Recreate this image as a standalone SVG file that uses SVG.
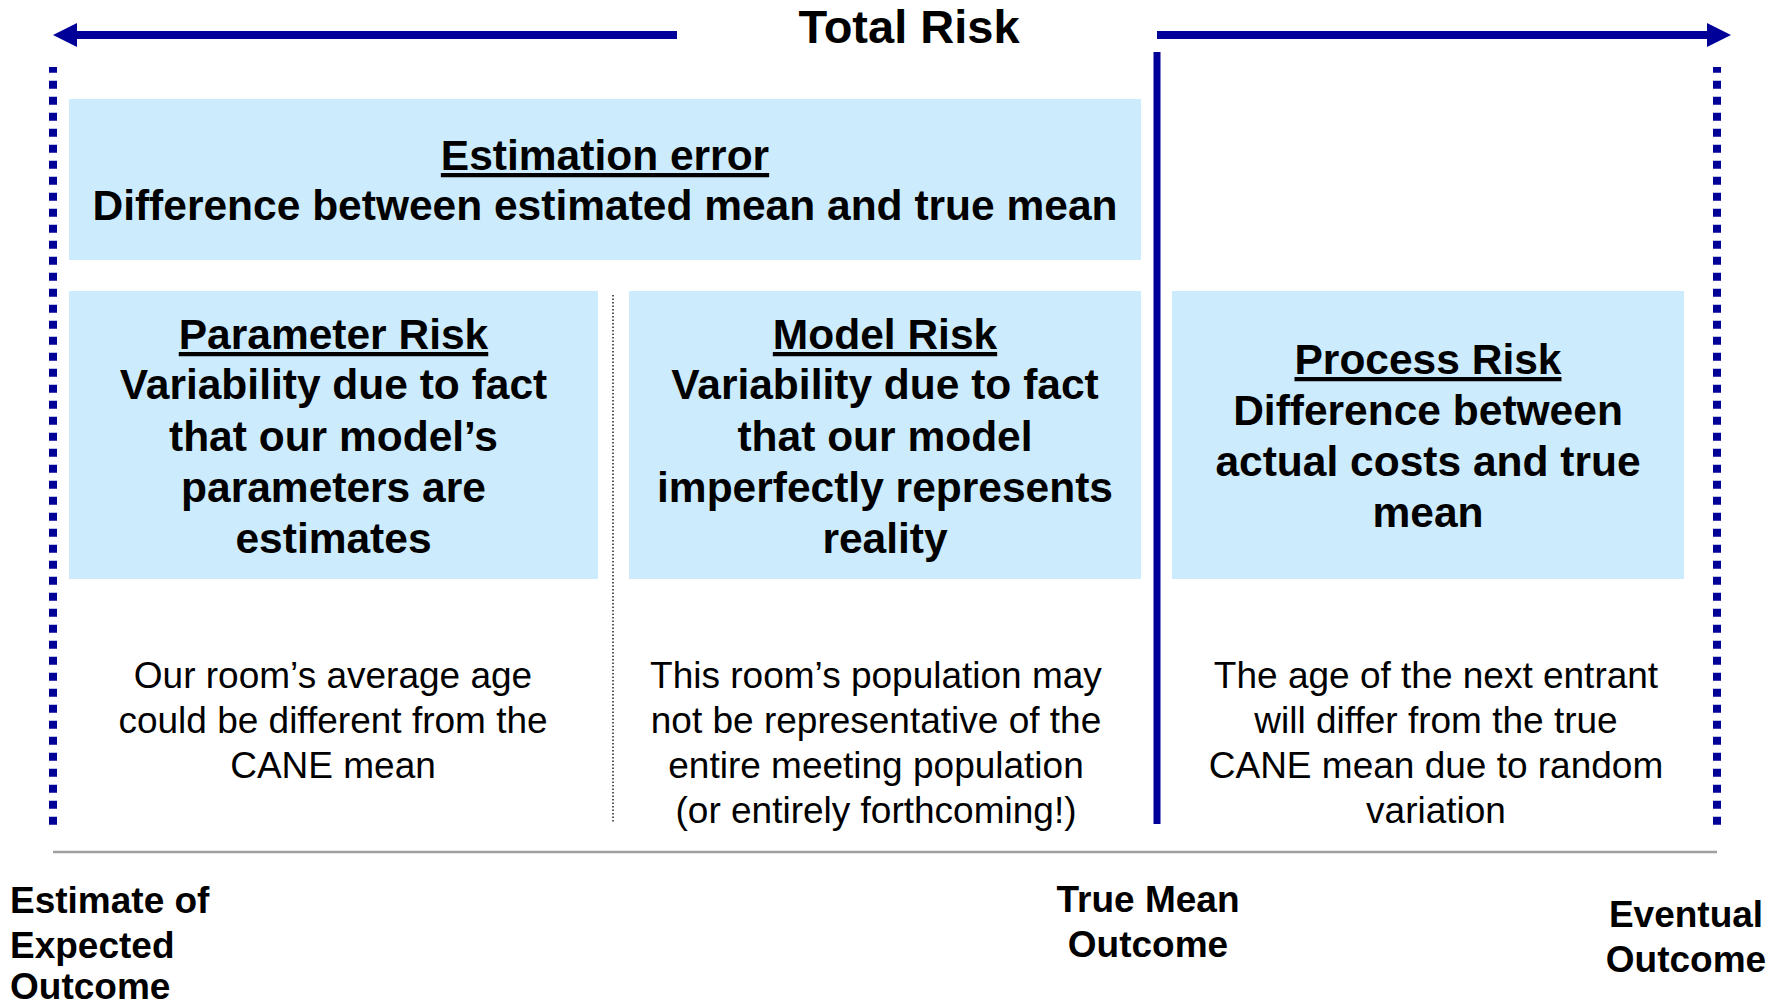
<svg xmlns="http://www.w3.org/2000/svg" width="1783" height="1006" viewBox="0 0 1783 1006">
  <style>
    text { font-family: "Liberation Sans", Arial, sans-serif; fill: #000; text-anchor: middle; }
    .head { font-size: 42.5px; font-weight: bold; }
    .title { text-decoration: underline; }
    .note { font-size: 37px; }
    .axis { font-size: 37px; font-weight: bold; }
    .box { fill: #CCEBFC; }
    .bound { stroke: #000099; stroke-width: 8; stroke-dasharray: 8 8; stroke-dashoffset: 2.3; fill: none; }
  </style>
  <defs>
    <marker id="tip" markerWidth="3" markerHeight="3" refX="0" refY="1.5" orient="auto" markerUnits="strokeWidth" viewBox="0 0 3 3">
      <path d="M0,0 L3,1.5 L0,3 Z" fill="#000099"/>
    </marker>
  </defs>

  <!-- Arrows, separators and the baseline -->
  <g id="connectors">
    <line x1="677" y1="35" x2="77" y2="35" stroke="#000099" stroke-width="8" marker-end="url(#tip)"/>
    <line x1="1157" y1="35" x2="1707" y2="35" stroke="#000099" stroke-width="8" marker-end="url(#tip)"/>
    <line x1="1157" y1="52" x2="1157" y2="824" stroke="#000099" stroke-width="7"/>
    <line class="bound" x1="53" y1="67" x2="53" y2="825"/>
    <line class="bound" x1="1717" y1="67" x2="1717" y2="825"/>
    <line x1="613" y1="295" x2="613" y2="822" stroke="#000" stroke-width="1.3" stroke-dasharray="1.5 2"/>
    <line x1="53" y1="852" x2="1717" y2="852" stroke="#A0A0A0" stroke-width="2.5"/>
  </g>

  <g id="total-risk">
    <text x="909" y="43" style="font-size:47px;font-weight:bold">Total Risk</text>
  </g>

  <g id="estimation-error">
    <rect class="box" x="69" y="99" width="1072" height="161"/>
    <text class="head" x="605" y="170"><tspan class="title">Estimation error</tspan></text>
    <text class="head" x="605" y="220">Difference between estimated mean and true mean</text>
  </g>

  <g id="parameter-risk">
    <rect class="box" x="69" y="291" width="529" height="288"/>
    <text class="head" x="333.5" y="349"><tspan class="title">Parameter Risk</tspan></text>
    <text class="head" x="333.5" y="399">Variability due to fact</text>
    <text class="head" x="333.5" y="451">that our model’s</text>
    <text class="head" x="333.5" y="502">parameters are</text>
    <text class="head" x="333.5" y="553">estimates</text>
    <text class="note" x="333" y="688">Our room’s average age</text>
    <text class="note" x="333" y="733">could be different from the</text>
    <text class="note" x="333" y="778">CANE mean</text>
  </g>

  <g id="model-risk">
    <rect class="box" x="629" y="291" width="512" height="288"/>
    <text class="head" x="885" y="349"><tspan class="title">Model Risk</tspan></text>
    <text class="head" x="885" y="399">Variability due to fact</text>
    <text class="head" x="885" y="451">that our model</text>
    <text class="head" x="885" y="502">imperfectly represents</text>
    <text class="head" x="885" y="553">reality</text>
    <text class="note" x="876" y="688">This room’s population may</text>
    <text class="note" x="876" y="733">not be representative of the</text>
    <text class="note" x="876" y="778">entire meeting population</text>
    <text class="note" x="876" y="823">(or entirely forthcoming!)</text>
  </g>

  <g id="process-risk">
    <rect class="box" x="1172" y="291" width="512" height="288"/>
    <text class="head" x="1428" y="374"><tspan class="title">Process Risk</tspan></text>
    <text class="head" x="1428" y="425">Difference between</text>
    <text class="head" x="1428" y="476">actual costs and true</text>
    <text class="head" x="1428" y="527">mean</text>
    <text class="note" x="1436" y="688">The age of the next entrant</text>
    <text class="note" x="1436" y="733">will differ from the true</text>
    <text class="note" x="1436" y="778">CANE mean due to random</text>
    <text class="note" x="1436" y="823">variation</text>
  </g>

  <g id="estimate-label">
    <text class="axis" x="10" y="913" style="text-anchor:start">Estimate of</text>
    <text class="axis" x="10" y="958" style="text-anchor:start">Expected</text>
    <text class="axis" x="10" y="999" style="text-anchor:start">Outcome</text>
  </g>

  <g id="true-mean-label">
    <text class="axis" x="1148" y="912">True Mean</text>
    <text class="axis" x="1148" y="957">Outcome</text>
  </g>

  <g id="eventual-label">
    <text class="axis" x="1686" y="927">Eventual</text>
    <text class="axis" x="1686" y="972">Outcome</text>
  </g>
</svg>
